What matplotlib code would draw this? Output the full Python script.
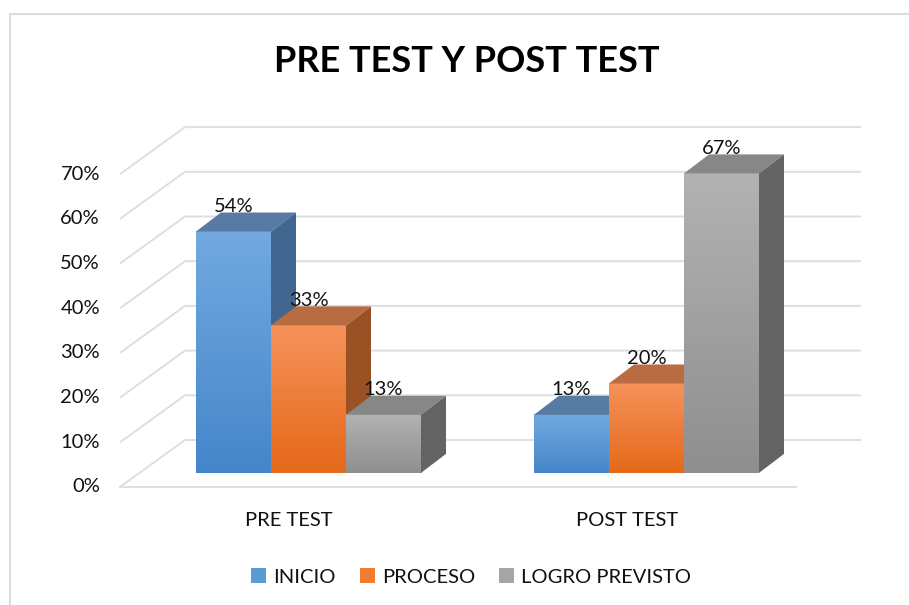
import numpy as np
import matplotlib
matplotlib.use("Agg")
import matplotlib.pyplot as plt
from matplotlib.patches import Polygon, Patch
from matplotlib.lines import Line2D
from matplotlib.colors import LinearSegmentedColormap

# ---------------- data ----------------
categories = ["PRE TEST", "POST TEST"]
series_names = ["INICIO", "PROCESO", "LOGRO PREVISTO"]
inicio = [54, 13]
proceso = [33, 20]
logro = [13, 67]
series_values = [inicio, proceso, logro]
tick_values = [0, 10, 20, 30, 40, 50, 60, 70]
tick_labels = ["0%", "10%", "20%", "30%", "40%", "50%", "60%", "70%"]
title = "PRE TEST Y POST TEST"

# ---------------- styling ----------------
FONT = "Lato"
FS = 14.5
front_top = ["#72A9E0", "#F5925A", "#B2B2B2"]
front_bot = ["#4586CA", "#E5691A", "#8F8F8F"]
top_col = ["#587BA3", "#B96B42", "#878787"]
side_col = ["#41668F", "#9A5124", "#636363"]
legend_col = ["#5B9BD5", "#ED7D31", "#A5A5A5"]
grid_col = "#DADFE7"
txt_col = "#111111"

W, H = 909, 605
fig = plt.figure(figsize=(W / 100, H / 100), dpi=100)
ax = fig.add_axes([0, 0, 1, 1])
ax.set_axis_off()

# pixel geometry -> data mapping
x0_px, y0_px = 120, 487       # front-left floor corner
px_per_cat = 338.0
px_per_val = 4.47
xlim = (-x0_px / px_per_cat, (W - x0_px) / px_per_cat)
ylim = ((y0_px - H) / px_per_val, y0_px / px_per_val)

# depth offsets (data units)
bdx, bdy = 65 / px_per_cat, 47 / px_per_val      # floor depth to back wall
ddx, ddy = 25 / px_per_cat, 19 / px_per_val      # bar depth
depth_frac = 0.30                                # bar front position in depth
ncat = len(categories)
bar_w = 75 / px_per_cat

# gridlines (back wall + side wall)
for v in tick_values:
    ax.plot([0, bdx, ncat + bdx], [v, v + bdy, v + bdy], color=grid_col, lw=1.4,
            solid_capstyle="butt", zorder=1)
ax.plot([0, ncat], [0, 0], color=grid_col, lw=1.4, zorder=1)

# tick labels
for v, lab in zip(tick_values, tick_labels):
    ax.text(-20 / px_per_cat, v, lab, ha="right", va="center", fontsize=FS,
            family=FONT, color=txt_col)

# bars
sx, sy = depth_frac * bdx, depth_frac * bdy
z = 3
for ci in range(ncat):
    start = ci + 0.5 - bar_w * len(series_values) / 2 + sx
    for si, vals in enumerate(series_values):
        val = vals[ci]
        xa = start + si * bar_w
        xb = xa + bar_w
        b = sy
        t = sy + val
        # front face with vertical gradient
        cmap = LinearSegmentedColormap.from_list("g", [front_bot[si], front_top[si]])
        grad = np.linspace(1, 0, 64).reshape(-1, 1)
        ax.imshow(grad, cmap=cmap, extent=[xa, xb, b, t], aspect="auto",
                  zorder=z, interpolation="bilinear", vmin=0, vmax=1)
        # top face
        ax.add_patch(Polygon([(xa, t), (xb, t), (xb + ddx, t + ddy), (xa + ddx, t + ddy)],
                             closed=True, facecolor=top_col[si], edgecolor="none", zorder=z))
        # side face
        ax.add_patch(Polygon([(xb, b), (xb + ddx, b + ddy), (xb + ddx, t + ddy), (xb, t)],
                             closed=True, facecolor=side_col[si], edgecolor="none", zorder=z))
        # data label
        ax.text((xa + xb) / 2, t + ddy + 0.1, f"{val}%", ha="center", va="baseline",
                fontsize=FS, family=FONT, color=txt_col, zorder=20)
        z += 1

# category labels
for ci, cat in enumerate(categories):
    ax.text(ci + 0.5, (y0_px - 520) / px_per_val, cat, ha="center", va="center",
            fontsize=FS, family=FONT, color=txt_col)

ax.set_xlim(*xlim)
ax.set_ylim(*ylim)

# title
fig.text(467 / W, 1 - 62 / H, title, ha="center", va="center", fontsize=26,
         fontweight="bold", family=FONT, color="#000000")

# legend
handles = [Patch(facecolor=c, edgecolor="none") for c in legend_col]
leg = fig.legend(handles, series_names, loc="center", bbox_to_anchor=(471 / W, 1 - 577 / H),
                 ncol=3, frameon=False, handlelength=0.75, handleheight=0.75,
                 handletextpad=0.35, columnspacing=1.2,
                 prop={"family": FONT, "size": FS})
for t in leg.get_texts():
    t.set_color(txt_col)

# chart border (left and top visible)
fig.add_artist(Line2D([10 / W, 10 / W, 1.0], [0, 1 - 14 / H, 1 - 14 / H],
                      transform=fig.transFigure, color="#D9DCE1", lw=1.5))

fig.savefig("out.png", dpi=100)
